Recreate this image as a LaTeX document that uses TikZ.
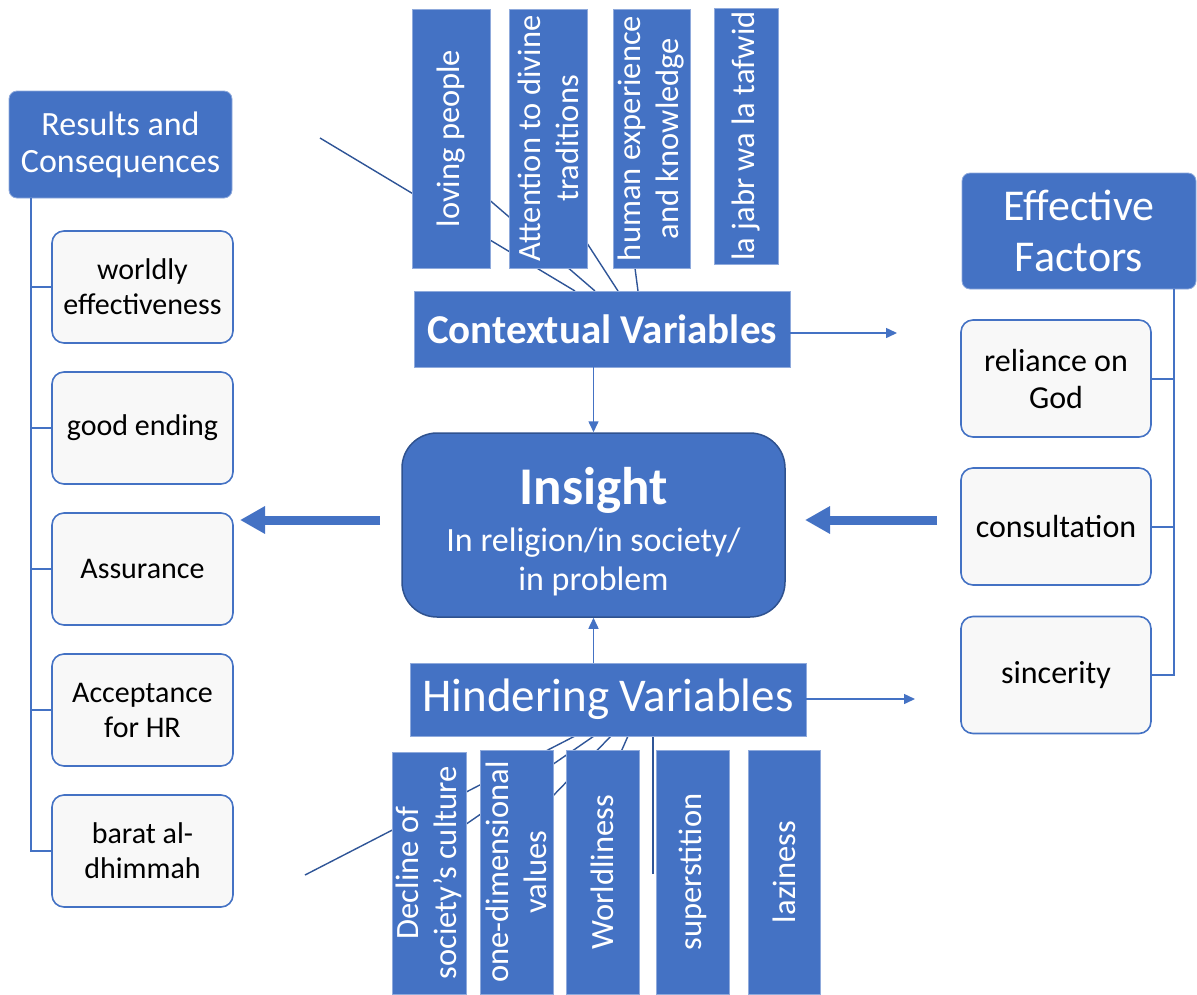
\documentclass[tikz,border=0pt]{standalone}
\usepackage{fontspec}
\setmainfont{Carlito}
\usetikzlibrary{arrows.meta,backgrounds}
\definecolor{boxblue}{HTML}{4472C4}
\definecolor{lineblue}{HTML}{2F5597}
\definecolor{edgeblue}{HTML}{2F528F}
\definecolor{paleblue}{HTML}{8FAADC}
\definecolor{itemgray}{HTML}{F8F8F8}
\tikzset{
  headbox/.style={fill=boxblue, draw=paleblue, line width=0.8pt, rounded corners=8pt, text=white, align=center, inner sep=0pt},
  itembox/.style={fill=itemgray, draw=boxblue, line width=1.6pt, rounded corners=12pt, align=center, inner sep=0pt},
  leftitem/.style={itembox, minimum width=181pt, minimum height=112pt, font=\fontsize{30}{35}\selectfont},
  rightitem/.style={itembox, minimum width=190pt, minimum height=117pt, font=\fontsize{32}{37}\selectfont},
  varbox/.style={fill=boxblue, draw=paleblue, line width=0.8pt, text=white, inner sep=0pt},
  stripbox/.style={varbox, rotate=90, align=center, font=\fontsize{32.5}{38}\selectfont},
  treeline/.style={draw=boxblue, line width=2pt},
  spoke/.style={draw=lineblue, line width=1.4pt},
  thinarrow/.style={boxblue, line width=1.5pt, -{Triangle[width=10pt,length=11pt]}},
  bigarrow/.style={boxblue, line width=9pt, -{Triangle[width=26pt,length=25pt]}}
}
\begin{document}
\begin{tikzpicture}[x=1pt,y=-1pt]
		\clip (0,0) rectangle (1197,994);
		% Nodes
		\node[fill=boxblue, draw=edgeblue, line width=1.5pt, rounded corners=35pt, text=white, align=center,
		      minimum width=383pt, minimum height=184pt, inner sep=0pt, font=\fontsize{34}{39}\selectfont]
		      (insight) at (593.5,525) {\rule{0pt}{50pt}{\fontsize{53}{56}\selectfont\bfseries Insight}\\[8pt]In religion/in society/\\in problem};
		\node[varbox, minimum width=376pt, minimum height=76pt, font=\fontsize{41}{48}\selectfont\bfseries] (context) at (602,329) {Contextual Variables};
		\node[varbox, minimum width=396pt, minimum height=73pt, font=\fontsize{47}{52}\selectfont] (hinder) at (608,699.5) {Hindering Variables};

		\node[headbox, minimum width=223pt, minimum height=107pt, font=\fontsize{34}{37}\selectfont] (results) at (120.5,144.5) {Results and\\Consequences};
		\node[leftitem] (worldly) at (142.5,287) {worldly\\effectiveness};
		\node[leftitem] (ending) at (142.5,428) {good ending};
		\node[leftitem] (assurance) at (142.5,569) {Assurance};
		\node[leftitem] (acceptance) at (142.5,710) {Acceptance\\for HR};
		\node[leftitem] (barat) at (142.5,851) {barat al-\\dhimmah};

		\node[headbox, minimum width=234pt, minimum height=116pt, font=\fontsize{44}{51}\selectfont] (factors) at (1079,231) {Effective\\Factors};
		\node[rightitem] (reliance) at (1056,378.5) {reliance on\\God};
		\node[rightitem] (consult) at (1056,526.5) {consultation};
		\node[rightitem] (sincerity) at (1056,675) {sincerity};

		\node[stripbox, minimum width=259pt, minimum height=78pt] (loving) at (451,138.5) {loving people};
		\node[stripbox, minimum width=259pt, minimum height=78pt] (divine) at (548,138.5) {Attention to divine\\traditions};
		\node[stripbox, minimum width=259pt, minimum height=77pt] (human) at (651.5,138.5) {human experience\\and knowledge};
		\node[stripbox, minimum width=256pt, minimum height=64pt] (lajabr) at (746,136) {la jabr wa la tafwid};

		\node[stripbox, minimum width=242pt, minimum height=74pt] (decline) at (429,873) {Decline of\\society's culture};
		\node[stripbox, minimum width=244pt, minimum height=73pt] (onedim) at (516.5,872) {one-dimensional\\values};
		\node[stripbox, minimum width=244pt, minimum height=73pt] (worldliness) at (602.5,872) {Worldliness};
		\node[stripbox, minimum width=244pt, minimum height=73pt] (superstition) at (692.5,872) {superstition};
		\node[stripbox, minimum width=244pt, minimum height=72pt] (laziness) at (784,872) {laziness};

		% Free ends
		\coordinate (ctxout) at (897,333);
		\coordinate (hinout) at (915,699);
		\coordinate (leftfrom) at (380,520);
		\coordinate (leftto) at (240,520);
		\coordinate (rightfrom) at (937,520);
		\coordinate (rightto) at (805,520);
		\coordinate (topfree) at (320,138);
		\coordinate (botfree) at (305,875);
		\coordinate (gapfree) at (653,874);

		% Spokes behind the strips
		\begin{pgfonlayer}{background}
			\draw[spoke] (topfree) -- (575,291);
			\draw[spoke] (loving.center) ++(-1,27.5) -- (595,291);
			\draw[spoke] (divine.center) ++(0,44.5) -- (618,291);
			\draw[spoke] (human.center) ++(-23.5,76.5) -- (638,291);
			\draw[spoke] (botfree) -- (575,736);
			\draw[spoke] (decline.center) ++(1,-24) -- (594,736);
			\draw[spoke] (onedim.center) ++(-0.5,-38) -- (611,736);
			\draw[spoke] (worldliness.center) ++(-0.5,-77) -- (628,736);
			\draw[spoke] (gapfree) -- (hinder.south -| gapfree);
		\end{pgfonlayer}

		% Trees
		\draw[treeline] (results.south west) ++(22,0) |- (barat.west);
		\foreach \item in {worldly,ending,assurance,acceptance}
			\draw[treeline] (\item.west) -- ++(-21,0);
		\draw[treeline] (factors.south east) ++(-22,0) |- (sincerity.east);
		\foreach \item in {reliance,consult}
			\draw[treeline] (\item.east) -- ++(23,0);

		% Arrows
		\draw[thinarrow] (context.south -| insight.north) -- (insight.north);
		\draw[thinarrow] (hinder.north -| insight.south) -- (insight.south);
		\draw[thinarrow] (context.east |- ctxout) -- (ctxout);
		\draw[thinarrow] (hinder.east |- hinout) -- (hinout);
		\draw[bigarrow] (leftfrom) -- (leftto);
		\draw[bigarrow] (rightfrom) -- (rightto);
	\end{tikzpicture}
\end{document}
